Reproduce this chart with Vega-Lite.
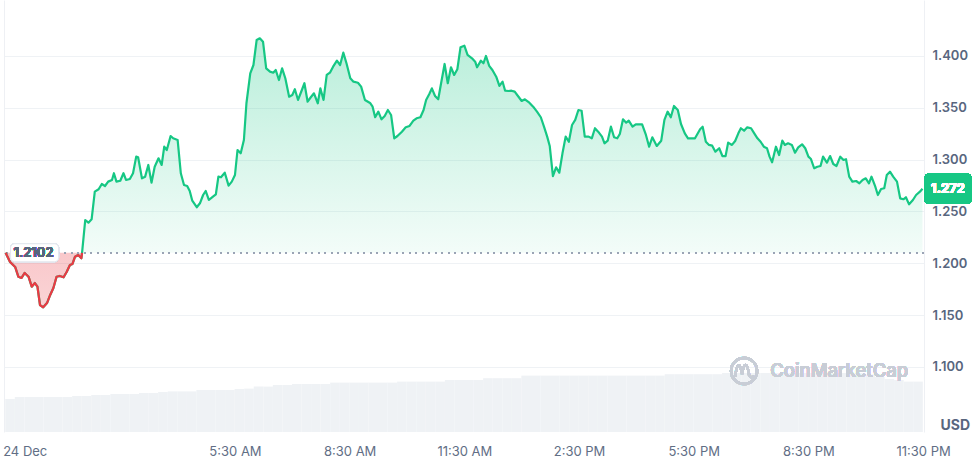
{
  "$schema": "https://vega.github.io/schema/vega-lite/v6.json",
  "width": 920,
  "height": 432,
  "autosize": {"type": "none"},
  "padding": {"left": 4, "top": 0, "right": 52, "bottom": 26},
  "background": "white",
  "config": {"view": {"stroke": null}, "font": "Inter", "text": {"font": "Inter"}},
  "datasets": {
    "price": [
      {"t":"2024-12-23T23:30","p":1.2102},{"t":"2024-12-23T23:37","p":1.2013},{"t":"2024-12-23T23:45","p":1.1965},{"t":"2024-12-23T23:50","p":1.1871},{"t":"2024-12-23T23:55","p":1.1859},
      {"t":"2024-12-24T00:00","p":1.1907},{"t":"2024-12-24T00:06","p":1.1871},{"t":"2024-12-24T00:11","p":1.1775},{"t":"2024-12-24T00:16","p":1.1810},{"t":"2024-12-24T00:20","p":1.1775},
      {"t":"2024-12-24T00:24","p":1.1598},{"t":"2024-12-24T00:29","p":1.1576},{"t":"2024-12-24T00:35","p":1.1617},{"t":"2024-12-24T00:40","p":1.1695},{"t":"2024-12-24T00:45","p":1.1762},
      {"t":"2024-12-24T00:50","p":1.1871},{"t":"2024-12-24T00:55","p":1.1878},{"t":"2024-12-24T01:01","p":1.1865},{"t":"2024-12-24T01:06","p":1.1919},{"t":"2024-12-24T01:11","p":1.1984},
      {"t":"2024-12-24T01:15","p":1.1994},{"t":"2024-12-24T01:19","p":1.2064},{"t":"2024-12-24T01:24","p":1.2080},{"t":"2024-12-24T01:29","p":1.2049},{"t":"2024-12-24T01:30","p":1.2102},
      {"t":"2024-12-24T01:35","p":1.2418},{"t":"2024-12-24T01:40","p":1.2392},{"t":"2024-12-24T01:45","p":1.2425},{"t":"2024-12-24T01:50","p":1.2691},{"t":"2024-12-24T01:56","p":1.2714},
      {"t":"2024-12-24T02:01","p":1.2765},{"t":"2024-12-24T02:06","p":1.2746},{"t":"2024-12-24T02:11","p":1.2788},{"t":"2024-12-24T02:17","p":1.2804},{"t":"2024-12-24T02:20","p":1.2869},
      {"t":"2024-12-24T02:24","p":1.2788},{"t":"2024-12-24T02:30","p":1.2797},{"t":"2024-12-24T02:35","p":1.2869},{"t":"2024-12-24T02:39","p":1.2804},{"t":"2024-12-24T02:45","p":1.2814},
      {"t":"2024-12-24T02:50","p":1.2869},{"t":"2024-12-24T02:55","p":1.3029},{"t":"2024-12-24T02:58","p":1.3023},{"t":"2024-12-24T03:04","p":1.2820},{"t":"2024-12-24T03:09","p":1.2836},
      {"t":"2024-12-24T03:14","p":1.2949},{"t":"2024-12-24T03:19","p":1.2778},{"t":"2024-12-24T03:24","p":1.2932},{"t":"2024-12-24T03:30","p":1.3013},{"t":"2024-12-24T03:35","p":1.2949},
      {"t":"2024-12-24T03:39","p":1.3125},{"t":"2024-12-24T03:43","p":1.3093},{"t":"2024-12-24T03:49","p":1.3228},{"t":"2024-12-24T03:53","p":1.3206},{"t":"2024-12-24T04:00","p":1.3190},
      {"t":"2024-12-24T04:05","p":1.2869},{"t":"2024-12-24T04:10","p":1.2756},{"t":"2024-12-24T04:15","p":1.2746},{"t":"2024-12-24T04:19","p":1.2698},{"t":"2024-12-24T04:23","p":1.2604},
      {"t":"2024-12-24T04:30","p":1.2541},{"t":"2024-12-24T04:35","p":1.2579},{"t":"2024-12-24T04:40","p":1.2659},{"t":"2024-12-24T04:44","p":1.2698},{"t":"2024-12-24T04:49","p":1.2611},
      {"t":"2024-12-24T04:54","p":1.2637},{"t":"2024-12-24T05:00","p":1.2666},{"t":"2024-12-24T05:04","p":1.2836},{"t":"2024-12-24T05:08","p":1.2830},{"t":"2024-12-24T05:14","p":1.2874},
      {"t":"2024-12-24T05:20","p":1.2749},{"t":"2024-12-24T05:25","p":1.2788},{"t":"2024-12-24T05:30","p":1.2852},{"t":"2024-12-24T05:34","p":1.3093},{"t":"2024-12-24T05:39","p":1.3061},
      {"t":"2024-12-24T05:44","p":1.3190},{"t":"2024-12-24T05:48","p":1.3544},{"t":"2024-12-24T05:54","p":1.3833},{"t":"2024-12-24T05:59","p":1.3913},{"t":"2024-12-24T06:04","p":1.4154},
      {"t":"2024-12-24T06:09","p":1.4171},{"t":"2024-12-24T06:14","p":1.4138},{"t":"2024-12-24T06:19","p":1.3881},{"t":"2024-12-24T06:25","p":1.3849},{"t":"2024-12-24T06:30","p":1.3839},
      {"t":"2024-12-24T06:34","p":1.3865},{"t":"2024-12-24T06:39","p":1.3768},{"t":"2024-12-24T06:44","p":1.3881},{"t":"2024-12-24T06:49","p":1.3785},{"t":"2024-12-24T06:55","p":1.3607},
      {"t":"2024-12-24T07:00","p":1.3624},{"t":"2024-12-24T07:04","p":1.3679},{"t":"2024-12-24T07:09","p":1.3576},{"t":"2024-12-24T07:15","p":1.3672},{"t":"2024-12-24T07:19","p":1.3737},
      {"t":"2024-12-24T07:24","p":1.3559},{"t":"2024-12-24T07:29","p":1.3602},{"t":"2024-12-24T07:34","p":1.3640},{"t":"2024-12-24T07:40","p":1.3544},{"t":"2024-12-24T07:44","p":1.3688},
      {"t":"2024-12-24T07:49","p":1.3576},{"t":"2024-12-24T07:54","p":1.3817},{"t":"2024-12-24T07:59","p":1.3839},{"t":"2024-12-24T08:04","p":1.3897},{"t":"2024-12-24T08:10","p":1.3955},
      {"t":"2024-12-24T08:15","p":1.3913},{"t":"2024-12-24T08:20","p":1.4032},{"t":"2024-12-24T08:25","p":1.3930},{"t":"2024-12-24T08:31","p":1.3785},{"t":"2024-12-24T08:36","p":1.3752},
      {"t":"2024-12-24T08:43","p":1.3742},{"t":"2024-12-24T08:48","p":1.3704},{"t":"2024-12-24T08:54","p":1.3576},{"t":"2024-12-24T09:02","p":1.3547},{"t":"2024-12-24T09:06","p":1.3511},
      {"t":"2024-12-24T09:10","p":1.3409},{"t":"2024-12-24T09:15","p":1.3463},{"t":"2024-12-24T09:20","p":1.3389},{"t":"2024-12-24T09:25","p":1.3421},{"t":"2024-12-24T09:30","p":1.3479},
      {"t":"2024-12-24T09:35","p":1.3431},{"t":"2024-12-24T09:40","p":1.3206},{"t":"2024-12-24T09:45","p":1.3228},{"t":"2024-12-24T09:52","p":1.3270},{"t":"2024-12-24T09:58","p":1.3312},
      {"t":"2024-12-24T10:04","p":1.3325},{"t":"2024-12-24T10:10","p":1.3376},{"t":"2024-12-24T10:15","p":1.3399},{"t":"2024-12-24T10:21","p":1.3409},{"t":"2024-12-24T10:26","p":1.3479},
      {"t":"2024-12-24T10:30","p":1.3576},{"t":"2024-12-24T10:35","p":1.3633},{"t":"2024-12-24T10:39","p":1.3688},{"t":"2024-12-24T10:44","p":1.3614},{"t":"2024-12-24T10:49","p":1.3582},
      {"t":"2024-12-24T10:53","p":1.3720},{"t":"2024-12-24T10:59","p":1.3923},{"t":"2024-12-24T11:04","p":1.3737},{"t":"2024-12-24T11:09","p":1.3891},{"t":"2024-12-24T11:14","p":1.3817},
      {"t":"2024-12-24T11:19","p":1.3872},{"t":"2024-12-24T11:24","p":1.4084},{"t":"2024-12-24T11:30","p":1.4099},{"t":"2024-12-24T11:35","p":1.4010},{"t":"2024-12-24T11:42","p":1.3978},
      {"t":"2024-12-24T11:47","p":1.3945},{"t":"2024-12-24T11:50","p":1.3891},{"t":"2024-12-24T11:56","p":1.3955},{"t":"2024-12-24T12:00","p":1.3930},{"t":"2024-12-24T12:04","p":1.4000},
      {"t":"2024-12-24T12:09","p":1.3904},{"t":"2024-12-24T12:14","p":1.3865},{"t":"2024-12-24T12:20","p":1.3800},{"t":"2024-12-24T12:25","p":1.3711},{"t":"2024-12-24T12:30","p":1.3752},
      {"t":"2024-12-24T12:34","p":1.3665},{"t":"2024-12-24T12:39","p":1.3662},{"t":"2024-12-24T12:44","p":1.3665},{"t":"2024-12-24T12:49","p":1.3656},{"t":"2024-12-24T12:55","p":1.3607},
      {"t":"2024-12-24T13:00","p":1.3566},{"t":"2024-12-24T13:05","p":1.3582},{"t":"2024-12-24T13:12","p":1.3550},{"t":"2024-12-24T13:18","p":1.3511},{"t":"2024-12-24T13:24","p":1.3463},
      {"t":"2024-12-24T13:30","p":1.3409},{"t":"2024-12-24T13:35","p":1.3318},{"t":"2024-12-24T13:40","p":1.3222},{"t":"2024-12-24T13:44","p":1.3132},{"t":"2024-12-24T13:49","p":1.2842},
      {"t":"2024-12-24T13:54","p":1.2926},{"t":"2024-12-24T13:59","p":1.2874},{"t":"2024-12-24T14:04","p":1.3061},{"t":"2024-12-24T14:09","p":1.3222},{"t":"2024-12-24T14:14","p":1.3173},
      {"t":"2024-12-24T14:19","p":1.3334},{"t":"2024-12-24T14:24","p":1.3383},{"t":"2024-12-24T14:29","p":1.3479},{"t":"2024-12-24T14:34","p":1.3472},{"t":"2024-12-24T14:39","p":1.3222},
      {"t":"2024-12-24T14:45","p":1.3222},{"t":"2024-12-24T14:50","p":1.3206},{"t":"2024-12-24T14:55","p":1.3303},{"t":"2024-12-24T15:00","p":1.3270},{"t":"2024-12-24T15:06","p":1.3222},
      {"t":"2024-12-24T15:10","p":1.3158},{"t":"2024-12-24T15:15","p":1.3183},{"t":"2024-12-24T15:20","p":1.3318},{"t":"2024-12-24T15:25","p":1.3216},{"t":"2024-12-24T15:30","p":1.3206},
      {"t":"2024-12-24T15:34","p":1.3248},{"t":"2024-12-24T15:39","p":1.3389},{"t":"2024-12-24T15:44","p":1.3357},{"t":"2024-12-24T15:48","p":1.3376},{"t":"2024-12-24T15:54","p":1.3318},
      {"t":"2024-12-24T15:59","p":1.3341},{"t":"2024-12-24T16:09","p":1.3341},{"t":"2024-12-24T16:15","p":1.3238},{"t":"2024-12-24T16:20","p":1.3125},{"t":"2024-12-24T16:25","p":1.3216},
      {"t":"2024-12-24T16:32","p":1.3132},{"t":"2024-12-24T16:39","p":1.3183},{"t":"2024-12-24T16:44","p":1.3383},{"t":"2024-12-24T16:49","p":1.3463},{"t":"2024-12-24T16:54","p":1.3409},
      {"t":"2024-12-24T16:59","p":1.3518},{"t":"2024-12-24T17:05","p":1.3479},{"t":"2024-12-24T17:10","p":1.3344},{"t":"2024-12-24T17:16","p":1.3254},{"t":"2024-12-24T17:21","p":1.3206},
      {"t":"2024-12-24T17:32","p":1.3206},{"t":"2024-12-24T17:40","p":1.3293},{"t":"2024-12-24T17:44","p":1.3318},{"t":"2024-12-24T17:49","p":1.3173},{"t":"2024-12-24T17:54","p":1.3142},
      {"t":"2024-12-24T17:59","p":1.3135},{"t":"2024-12-24T18:04","p":1.3077},{"t":"2024-12-24T18:10","p":1.3110},{"t":"2024-12-24T18:15","p":1.3035},{"t":"2024-12-24T18:20","p":1.3035},
      {"t":"2024-12-24T18:24","p":1.3164},{"t":"2024-12-24T18:30","p":1.3142},{"t":"2024-12-24T18:35","p":1.3180},{"t":"2024-12-24T18:40","p":1.3254},{"t":"2024-12-24T18:44","p":1.3303},
      {"t":"2024-12-24T18:49","p":1.3279},{"t":"2024-12-24T18:54","p":1.3312},{"t":"2024-12-24T19:00","p":1.3303},{"t":"2024-12-24T19:05","p":1.3254},{"t":"2024-12-24T19:10","p":1.3206},
      {"t":"2024-12-24T19:15","p":1.3173},{"t":"2024-12-24T19:20","p":1.3125},{"t":"2024-12-24T19:25","p":1.3110},{"t":"2024-12-24T19:29","p":1.3029},{"t":"2024-12-24T19:33","p":1.2975},
      {"t":"2024-12-24T19:39","p":1.3125},{"t":"2024-12-24T19:44","p":1.3045},{"t":"2024-12-24T19:49","p":1.3183},{"t":"2024-12-24T19:53","p":1.3142},{"t":"2024-12-24T19:58","p":1.3158},
      {"t":"2024-12-24T20:04","p":1.3142},{"t":"2024-12-24T20:09","p":1.3067},{"t":"2024-12-24T20:14","p":1.3119},{"t":"2024-12-24T20:20","p":1.3148},{"t":"2024-12-24T20:25","p":1.3110},
      {"t":"2024-12-24T20:30","p":1.3029},{"t":"2024-12-24T20:34","p":1.3006},{"t":"2024-12-24T20:39","p":1.2917},{"t":"2024-12-24T20:44","p":1.2932},{"t":"2024-12-24T20:49","p":1.2939},
      {"t":"2024-12-24T20:53","p":1.3029},{"t":"2024-12-24T20:59","p":1.2971},{"t":"2024-12-24T21:04","p":1.3035},{"t":"2024-12-24T21:09","p":1.2958},{"t":"2024-12-24T21:14","p":1.2939},
      {"t":"2024-12-24T21:20","p":1.3029},{"t":"2024-12-24T21:25","p":1.2997},{"t":"2024-12-24T21:29","p":1.3004},{"t":"2024-12-24T21:34","p":1.2836},{"t":"2024-12-24T21:39","p":1.2788},
      {"t":"2024-12-24T21:45","p":1.2794},{"t":"2024-12-24T21:50","p":1.2772},{"t":"2024-12-24T21:55","p":1.2804},{"t":"2024-12-24T22:00","p":1.2820},{"t":"2024-12-24T22:05","p":1.2772},
      {"t":"2024-12-24T22:09","p":1.2836},{"t":"2024-12-24T22:15","p":1.2739},{"t":"2024-12-24T22:19","p":1.2659},{"t":"2024-12-24T22:24","p":1.2717},{"t":"2024-12-24T22:29","p":1.2724},
      {"t":"2024-12-24T22:33","p":1.2852},{"t":"2024-12-24T22:38","p":1.2884},{"t":"2024-12-24T22:43","p":1.2836},{"t":"2024-12-24T22:49","p":1.2788},{"t":"2024-12-24T22:54","p":1.2627},
      {"t":"2024-12-24T22:59","p":1.2618},{"t":"2024-12-24T23:03","p":1.2637},{"t":"2024-12-24T23:08","p":1.2569},{"t":"2024-12-24T23:14","p":1.2611},{"t":"2024-12-24T23:19","p":1.2659},
      {"t":"2024-12-24T23:25","p":1.2691},{"t":"2024-12-24T23:29","p":1.2720}
    ],
    "volume": [
      {"t":"2024-12-23T23:37","v":16.5},{"t":"2024-12-23T23:52","v":17.5},
      {"t":"2024-12-24T00:07","v":17.5},{"t":"2024-12-24T00:22","v":17.5},{"t":"2024-12-24T00:37","v":17.5},{"t":"2024-12-24T00:52","v":17.5},
      {"t":"2024-12-24T01:07","v":17.5},{"t":"2024-12-24T01:22","v":18},{"t":"2024-12-24T01:37","v":18},{"t":"2024-12-24T01:52","v":18.5},
      {"t":"2024-12-24T02:07","v":18.5},{"t":"2024-12-24T02:22","v":19},{"t":"2024-12-24T02:37","v":19},{"t":"2024-12-24T02:52","v":19},
      {"t":"2024-12-24T03:07","v":19.5},{"t":"2024-12-24T03:22","v":19.5},{"t":"2024-12-24T03:37","v":20},{"t":"2024-12-24T03:52","v":20.3},
      {"t":"2024-12-24T04:07","v":20.3},{"t":"2024-12-24T04:22","v":20.3},{"t":"2024-12-24T04:37","v":21},{"t":"2024-12-24T04:52","v":21},
      {"t":"2024-12-24T05:07","v":21},{"t":"2024-12-24T05:22","v":21},{"t":"2024-12-24T05:37","v":21.5},{"t":"2024-12-24T05:52","v":21.7},
      {"t":"2024-12-24T06:07","v":22.7},{"t":"2024-12-24T06:22","v":22.7},{"t":"2024-12-24T06:37","v":23.5},{"t":"2024-12-24T06:52","v":23.5},
      {"t":"2024-12-24T07:07","v":24},{"t":"2024-12-24T07:22","v":24},{"t":"2024-12-24T07:37","v":24},{"t":"2024-12-24T07:52","v":24},
      {"t":"2024-12-24T08:07","v":24.7},{"t":"2024-12-24T08:22","v":24.7},{"t":"2024-12-24T08:37","v":24.7},{"t":"2024-12-24T08:52","v":24.7},
      {"t":"2024-12-24T09:07","v":24.7},{"t":"2024-12-24T09:22","v":24.7},{"t":"2024-12-24T09:37","v":24.7},{"t":"2024-12-24T09:52","v":25.2},
      {"t":"2024-12-24T10:07","v":25.2},{"t":"2024-12-24T10:22","v":25.2},{"t":"2024-12-24T10:37","v":25.2},{"t":"2024-12-24T10:52","v":25.2},
      {"t":"2024-12-24T11:07","v":26},{"t":"2024-12-24T11:22","v":26},{"t":"2024-12-24T11:37","v":26},{"t":"2024-12-24T11:52","v":26},
      {"t":"2024-12-24T12:07","v":26.9},{"t":"2024-12-24T12:22","v":26.9},{"t":"2024-12-24T12:37","v":26.9},{"t":"2024-12-24T12:52","v":26.9},
      {"t":"2024-12-24T13:07","v":28.2},{"t":"2024-12-24T13:22","v":28.2},{"t":"2024-12-24T13:37","v":28.2},{"t":"2024-12-24T13:52","v":28.2},
      {"t":"2024-12-24T14:07","v":28.2},{"t":"2024-12-24T14:22","v":28.2},{"t":"2024-12-24T14:37","v":28.2},{"t":"2024-12-24T14:52","v":28.2},
      {"t":"2024-12-24T15:07","v":28.2},{"t":"2024-12-24T15:22","v":28.2},{"t":"2024-12-24T15:37","v":28.2},{"t":"2024-12-24T15:52","v":28.2},
      {"t":"2024-12-24T16:07","v":28.2},{"t":"2024-12-24T16:22","v":28.2},{"t":"2024-12-24T16:37","v":28.2},{"t":"2024-12-24T16:52","v":28.9},
      {"t":"2024-12-24T17:07","v":28.9},{"t":"2024-12-24T17:22","v":28.9},{"t":"2024-12-24T17:37","v":28.9},{"t":"2024-12-24T17:52","v":28.9},
      {"t":"2024-12-24T18:07","v":28.9},{"t":"2024-12-24T18:22","v":29.5},{"t":"2024-12-24T18:37","v":29.5},{"t":"2024-12-24T18:52","v":29.5},
      {"t":"2024-12-24T19:07","v":29.5},{"t":"2024-12-24T19:22","v":29.5},{"t":"2024-12-24T19:37","v":29.5},{"t":"2024-12-24T19:52","v":29.5},
      {"t":"2024-12-24T20:07","v":29.5},{"t":"2024-12-24T20:22","v":29.5},{"t":"2024-12-24T20:37","v":29.5},{"t":"2024-12-24T20:52","v":29.5},
      {"t":"2024-12-24T21:07","v":29.5},{"t":"2024-12-24T21:22","v":29.5},{"t":"2024-12-24T21:37","v":29.5},{"t":"2024-12-24T21:52","v":29.5},
      {"t":"2024-12-24T22:07","v":28.8},{"t":"2024-12-24T22:22","v":27.5},{"t":"2024-12-24T22:37","v":26.5},{"t":"2024-12-24T22:52","v":26},
      {"t":"2024-12-24T23:07","v":25.2},{"t":"2024-12-24T23:22","v":25.2}
    ]
  },
  "layer": [
    {
      "data": {"name": "volume"},
      "mark": {"type": "bar", "width": 9.6, "color": "#eff2f5"},
      "encoding": {
        "x": {
          "field": "t", "type": "temporal",
          "scale": {"padding": 0, "nice": false, "domain": [
            {"year": 2024, "month": 12, "date": 23, "hours": 23, "minutes": 27, "seconds": 30},
            {"year": 2024, "month": 12, "date": 24, "hours": 23, "minutes": 31, "seconds": 24}
          ]},
          "axis": {
            "values": [
              {"year": 2024, "month": 12, "date": 24, "hours": 0, "minutes": 0},
              {"year": 2024, "month": 12, "date": 24, "hours": 5, "minutes": 30},
              {"year": 2024, "month": 12, "date": 24, "hours": 8, "minutes": 30},
              {"year": 2024, "month": 12, "date": 24, "hours": 11, "minutes": 30},
              {"year": 2024, "month": 12, "date": 24, "hours": 14, "minutes": 30},
              {"year": 2024, "month": 12, "date": 24, "hours": 17, "minutes": 30},
              {"year": 2024, "month": 12, "date": 24, "hours": 20, "minutes": 30},
              {"year": 2024, "month": 12, "date": 24, "hours": 23, "minutes": 30}
            ],
            "labelExpr": "hours(datum.value) == 0 ? '24 Dec' : timeFormat(datum.value, '%-I:%M %p')",
            "title": null, "domain": false, "ticks": false, "grid": false,
            "labelPadding": 13, "labelFont": "Inter", "labelFontSize": 13,
            "labelColor": "#616e85", "labelOverlap": false, "labelFlush": false
          }
        },
        "y": {
          "field": "v", "type": "quantitative",
          "scale": {"domain": [0, 216], "nice": false, "zero": true},
          "axis": {"orient": "left", "title": null, "labels": false, "ticks": false, "grid": false, "domain": true, "domainColor": "#eef0f4"}
        }
      }
    },
    {
      "data": {"name": "price"},
      "layer": [
        {
          "transform": [{"filter": {"field": "t", "gte": {"year": 2024, "month": 12, "date": 24, "hours": 1, "minutes": 30}}}],
          "mark": {"type": "area", "color": {"gradient": "linear", "x1": 0, "y1": 0, "x2": 0, "y2": 1,
            "stops": [{"offset": 0, "color": "rgba(22,199,132,0.30)"}, {"offset": 1, "color": "rgba(22,199,132,0.05)"}]}},
          "encoding": {
            "x": {"field": "t", "type": "temporal"},
            "y": {
              "field": "p", "type": "quantitative",
              "scale": {"domain": [1.0373, 1.454], "nice": false, "zero": false},
              "axis": {
                "orient": "right", "values": [1.1, 1.15, 1.2, 1.25, 1.3, 1.35, 1.4], "format": ".3f",
                "ticks": false, "labelPadding": 8, "labelFont": "Inter", "labelFontSize": 13, "labelFontWeight": 600,
                "labelColor": "#58667e", "domainColor": "#eef0f4", "gridColor": "#eff2f5", "grid": true,
                "title": "USD", "titleAngle": 0, "titleX": 16, "titleY": 425, "titleAlign": "left", "titleBaseline": "middle",
                "titleFont": "Inter", "titleFontSize": 14, "titleFontWeight": 700, "titleColor": "#58667e"
              }
            },
            "y2": {"datum": 1.2102}
          }
        },
        {
          "transform": [{"filter": {"field": "t", "lte": {"year": 2024, "month": 12, "date": 24, "hours": 1, "minutes": 30}}}],
          "mark": {"type": "area", "color": {"gradient": "linear", "x1": 0, "y1": 0, "x2": 0, "y2": 1,
            "stops": [{"offset": 0, "color": "rgba(234,57,67,0.28)"}, {"offset": 1, "color": "rgba(234,57,67,0.22)"}]}},
          "encoding": {
            "x": {"field": "t", "type": "temporal"},
            "y": {"field": "p", "type": "quantitative"},
            "y2": {"datum": 1.2102}
          }
        },
        {
          "mark": {"type": "rule", "color": "#9aa3b5", "strokeWidth": 1.5, "strokeDash": [1.5, 5]},
          "encoding": {"y": {"datum": 1.2102}}
        },
        {
          "mark": {"type": "line", "color": "#16c784", "strokeWidth": 2.2, "strokeJoin": "round"},
          "encoding": {
            "x": {"field": "t", "type": "temporal"},
            "y": {"field": "p", "type": "quantitative"}
          }
        },
        {
          "transform": [{"filter": {"field": "t", "lte": {"year": 2024, "month": 12, "date": 24, "hours": 1, "minutes": 30}}}],
          "mark": {"type": "line", "color": "#ea3943", "strokeWidth": 2.2, "strokeJoin": "round"},
          "encoding": {
            "x": {"field": "t", "type": "temporal"},
            "y": {"field": "p", "type": "quantitative"}
          }
        },
        {
          "mark": {"type": "point", "shape": "M9,-9 H49 A4,4 0 0 1 53,-5 V5 A4,4 0 0 1 49,9 H9 A4,4 0 0 1 5,5 V-5 A4,4 0 0 1 9,-9 Z",
            "size": 4, "filled": true, "fill": "#ffffff", "fillOpacity": 1, "stroke": "#e3e7ee", "strokeWidth": 1, "opacity": 1},
          "encoding": {
            "x": {"datum": {"year": 2024, "month": 12, "date": 23, "hours": 23, "minutes": 30}, "type": "temporal"},
            "y": {"datum": 1.2102}
          }
        },
        {
          "mark": {"type": "text", "text": "1.2102", "align": "left", "baseline": "middle", "dx": 8, "dy": 0.5,
            "font": "Inter", "fontSize": 13, "fontWeight": 600, "color": "#58667e"},
          "encoding": {
            "x": {"datum": {"year": 2024, "month": 12, "date": 23, "hours": 23, "minutes": 30}, "type": "temporal"},
            "y": {"datum": 1.2102}
          }
        },
        {
          "mark": {"type": "point", "shape": "M6,-15 H45 A4,4 0 0 1 49,-11 V11 A4,4 0 0 1 45,15 H6 A4,4 0 0 1 2,11 V-11 A4,4 0 0 1 6,-15 Z",
            "size": 4, "filled": true, "fill": "#16c784", "fillOpacity": 1, "strokeWidth": 0, "opacity": 1},
          "encoding": {
            "x": {"datum": {"year": 2024, "month": 12, "date": 24, "hours": 23, "minutes": 29}, "type": "temporal"},
            "y": {"datum": 1.272}
          }
        },
        {
          "mark": {"type": "text", "text": "1.272", "align": "center", "baseline": "middle", "dx": 25.5,
            "font": "Inter", "fontSize": 13, "fontWeight": 700, "color": "#ffffff"},
          "encoding": {
            "x": {"datum": {"year": 2024, "month": 12, "date": 24, "hours": 23, "minutes": 29}, "type": "temporal"},
            "y": {"datum": 1.272}
          }
        },
        {
          "mark": {"type": "point", "shape": "M-13,0 A13,13 0 1 1 13,0 A13,13 0 1 1 -13,0 M-9,6 C-7,-9 -4,-9 -2,3 C0,-9 3,-9 5,4 C6,7 8,7 10,5",
            "size": 4, "filled": false, "stroke": "#c8cdd6", "strokeWidth": 2.4, "opacity": 1},
          "encoding": {
            "x": {"datum": {"year": 2024, "month": 12, "date": 24, "hours": 18, "minutes": 49}, "type": "temporal"},
            "y": {"datum": 1.0962}
          }
        },
        {
          "mark": {"type": "text", "text": "CoinMarketCap", "align": "left", "baseline": "middle",
            "font": "Inter", "fontSize": 18.5, "fontWeight": 500, "color": "#c8cdd6"},
          "encoding": {
            "x": {"datum": {"year": 2024, "month": 12, "date": 24, "hours": 19, "minutes": 30}, "type": "temporal"},
            "y": {"datum": 1.0962}
          }
        }
      ]
    }
  ],
  "resolve": {"scale": {"y": "independent"}}
}
